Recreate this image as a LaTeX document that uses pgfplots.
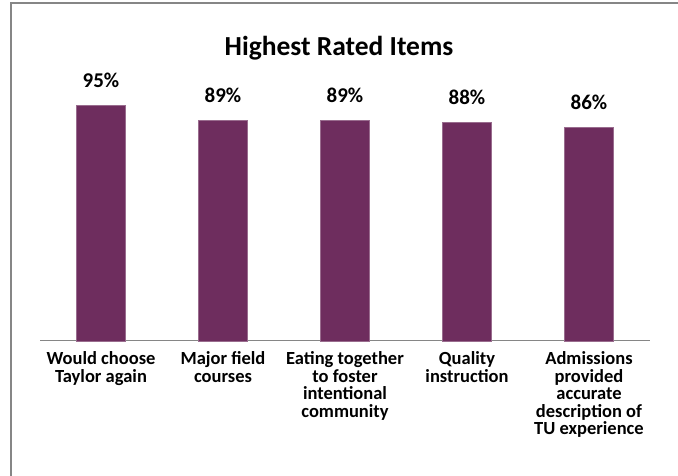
\documentclass[border=0pt]{standalone}
\usepackage{pgfplots}
\pgfplotsset{compat=1.18}
\usepackage{fontspec}
\setmainfont{Carlito}
\definecolor{barpurple}{RGB}{110,45,94}
\definecolor{framegray}{RGB}{134,134,134}
\begin{document}
\begin{tikzpicture}[x=1pt,y=1pt]
\useasboundingbox (0,0) rectangle (678,476);
% chart frame (cropped on the right and at the bottom)
\draw[framegray, line width=1.5pt] (11,-10) -- (11,473) -- (690,473);
\begin{axis}[
  at={(40pt,135pt)}, anchor=south west,
  scale only axis, width=610pt, height=248pt,
  xmin=-0.5, xmax=4.5, ymin=0, ymax=100,
  axis x line*=bottom, axis y line=none,
  x axis line style={framegray, line width=1pt, -},
  xtick=data, major tick length=0pt,
  xticklabels={{Would choose\\Taylor again},{Major field\\courses},{Eating together\\to foster\\intentional\\community},{Quality\\instruction},{Admissions\\provided\\accurate\\description of\\TU experience}},
  xticklabel style={font=\bfseries\fontsize{18.5}{17.5}\selectfont, align=center, anchor=north, yshift=-7pt},
  ybar, bar width=49pt,
  /pgf/number format/assume math mode=true,
  nodes near coords={\pgfmathprintnumber{\pgfplotspointmeta}\%},
  nodes near coords style={font=\bfseries\fontsize{21}{24}\selectfont, yshift=14pt},
  clip=false,
]
\addplot[fill=barpurple, draw=barpurple!70!white, line width=0.6pt] coordinates {(0,95) (1,89) (2,89) (3,88) (4,86)};
\end{axis}
\node[font=\bfseries\fontsize{27.5}{30}\selectfont] at (339,428) {Highest Rated Items};
\end{tikzpicture}
\end{document}
